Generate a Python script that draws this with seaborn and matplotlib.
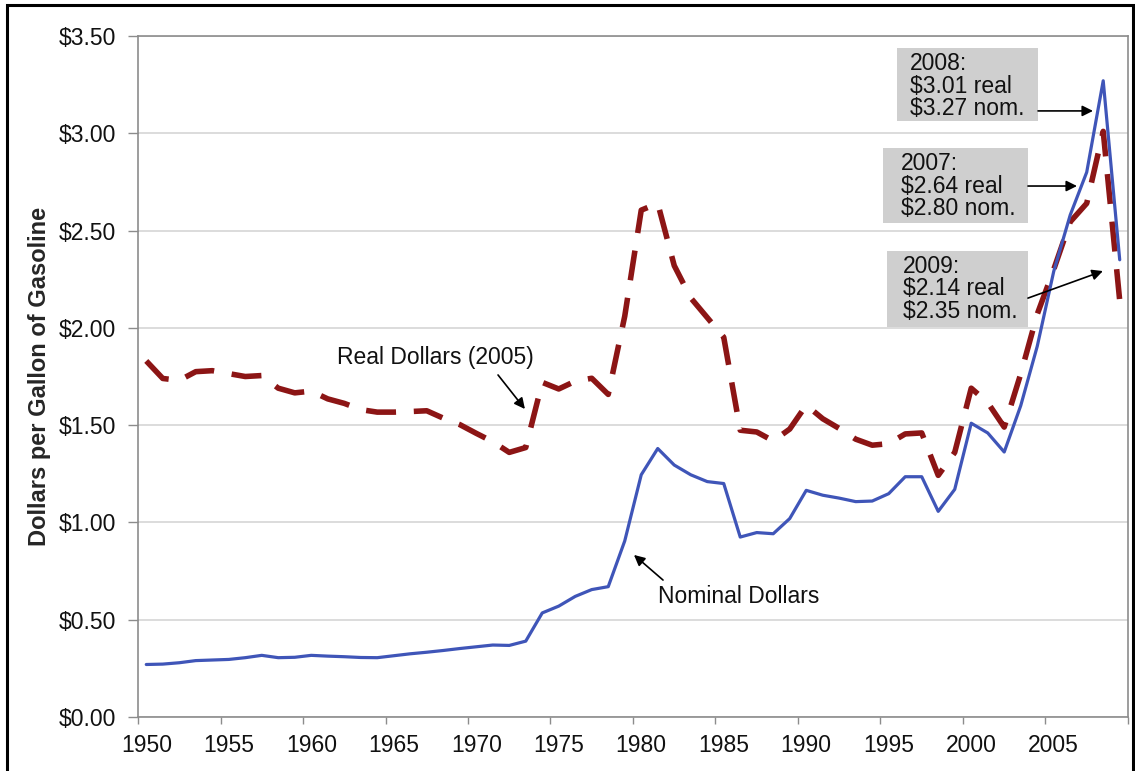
import numpy as np
import pandas as pd
import matplotlib
matplotlib.use('Agg')
import matplotlib.pyplot as plt
import seaborn as sns
from matplotlib.patches import Rectangle
from matplotlib.ticker import FixedLocator, FuncFormatter

# 数据: 每加仑汽油价格 (美元)
years = list(range(1950, 2010))
nominal = [0.27, 0.272, 0.279, 0.29, 0.293, 0.296, 0.305, 0.317, 0.305, 0.307,
           0.317, 0.313, 0.31, 0.306, 0.305, 0.315, 0.325, 0.333, 0.342, 0.352,
           0.361, 0.37, 0.368, 0.39, 0.535, 0.57, 0.62, 0.655, 0.67, 0.905,
           1.245, 1.38, 1.295, 1.245, 1.21, 1.20, 0.925, 0.948, 0.942, 1.02,
           1.165, 1.14, 1.125, 1.107, 1.11, 1.148, 1.235, 1.235, 1.057, 1.17,
           1.51, 1.46, 1.362, 1.60, 1.905, 2.29, 2.58, 2.80, 3.27, 2.35]
real = [1.83, 1.74, 1.73, 1.775, 1.78, 1.765, 1.75, 1.755, 1.69, 1.666,
        1.675, 1.635, 1.612, 1.58, 1.567, 1.567, 1.57, 1.574, 1.536, 1.503,
        1.458, 1.415, 1.36, 1.385, 1.72, 1.686, 1.726, 1.741, 1.658, 2.06,
        2.605, 2.64, 2.32, 2.154, 2.053, 1.952, 1.474, 1.465, 1.419, 1.48,
        1.603, 1.533, 1.483, 1.428, 1.397, 1.405, 1.455, 1.46, 1.242, 1.36,
        1.69, 1.616, 1.49, 1.763, 2.07, 2.30, 2.545, 2.64, 3.01, 2.14]
y_ticks = [0.0, 0.5, 1.0, 1.5, 2.0, 2.5, 3.0, 3.5]
x_labels = list(range(1950, 2010, 5))

df = pd.DataFrame({'year': years, 'nominal': nominal, 'real': real})

sns.set_style('white')
plt.rcParams['font.family'] = ['Liberation Sans', 'DejaVu Sans']

fig = plt.figure(figsize=(11.35, 7.71), dpi=100)
ax = fig.add_axes([0.1216, 0.070, 0.8722, 0.8833])

# 绘图
sns.lineplot(data=df, x='year', y='nominal', ax=ax, color='#3f55b8', lw=2.3, zorder=4)
sns.lineplot(data=df, x='year', y='real', ax=ax, color='#8c1515', lw=4.0, zorder=3)
ax.lines[-1].set_linestyle((0, (5.4, 3.2)))
ax.lines[-1].set_dash_capstyle('butt')

ax.set_xlim(1949.5, 2009.5)
ax.set_ylim(0, 3.5)

# 坐标轴
ax.set_yticks(y_ticks)
ax.yaxis.set_major_formatter(FuncFormatter(lambda v, p: '${:.2f}'.format(v)))
ax.set_xticks(x_labels)
ax.xaxis.set_minor_locator(FixedLocator(np.arange(1949.5, 2010, 5)))
ax.tick_params(axis='x', which='major', length=0, pad=12, labelsize=16.5, labelcolor='#111111')
ax.tick_params(axis='x', which='minor', length=5, width=1, color='#8c8c8c', direction='out', bottom=True)
ax.tick_params(axis='y', length=7, width=1, color='#8c8c8c', direction='out', pad=9,
               labelsize=16.5, labelcolor='#111111', left=True)
ax.grid(axis='y', color='#d6d6d6', lw=1.2)
ax.set_axisbelow(True)
for s in ax.spines.values():
    s.set_color('#8c8c8c')
    s.set_linewidth(1.2)

ax.set_xlabel('')
ax.set_ylabel('Dollars per Gallon of Gasoline', fontsize=17, fontweight='bold')
ax.yaxis.set_label_coords(-0.088, 0.5)

# 注释框
boxes = [
    ((1995.5, 3.063), 8.55, 0.375, (1996.29, 3.243), '2008:\n$3.01 real\n$3.27 nom.',
     (2004.05, 3.115), (2007.38, 3.115)),
    ((1994.65, 2.539), 8.79, 0.385, (1995.74, 2.729), '2007:\n$2.64 real\n$2.80 nom.',
     (2003.44, 2.729), (2006.41, 2.729)),
    ((1994.89, 2.004), 8.55, 0.391, (1995.86, 2.20), '2009:\n$2.14 real\n$2.35 nom.',
     (2003.44, 2.153), (2007.98, 2.292)),
]
for (xy, w, h, txy, txt, tail, head) in boxes:
    ax.add_patch(Rectangle(xy, w, h, facecolor='#cfcfcf', edgecolor='none', zorder=5))
    ax.text(txy[0], txy[1], txt, ha='left', va='center', fontsize=16.5,
            linespacing=0.95, color='#111111', zorder=6)
    ax.annotate('', xy=head, xytext=tail, zorder=6,
                arrowprops=dict(arrowstyle='-|>', color='black', lw=1.2,
                                mutation_scale=16, shrinkA=0, shrinkB=0))

ax.text(1967.5, 1.85, 'Real Dollars (2005)', ha='center', va='center', fontsize=16.5, color='#111111')
ax.annotate('', xy=(1972.95, 1.583), xytext=(1971.32, 1.758),
            arrowprops=dict(arrowstyle='-|>', color='black', lw=1.2,
                            mutation_scale=16, shrinkA=0, shrinkB=0))
ax.text(1985.89, 0.617, 'Nominal Dollars', ha='center', va='center', fontsize=16.5, color='#111111')
ax.annotate('', xy=(1979.56, 0.833), xytext=(1981.32, 0.704),
            arrowprops=dict(arrowstyle='-|>', color='black', lw=1.2,
                            mutation_scale=16, shrinkA=0, shrinkB=0))

# 外框
fig.patches.append(Rectangle((6.5 / 1135, -0.05), (1133 - 6.5) / 1135, 1.05 - 5.5 / 771,
                             transform=fig.transFigure, fill=False,
                             edgecolor='black', lw=2.2, zorder=10))

fig.savefig('out.png', dpi=100)
